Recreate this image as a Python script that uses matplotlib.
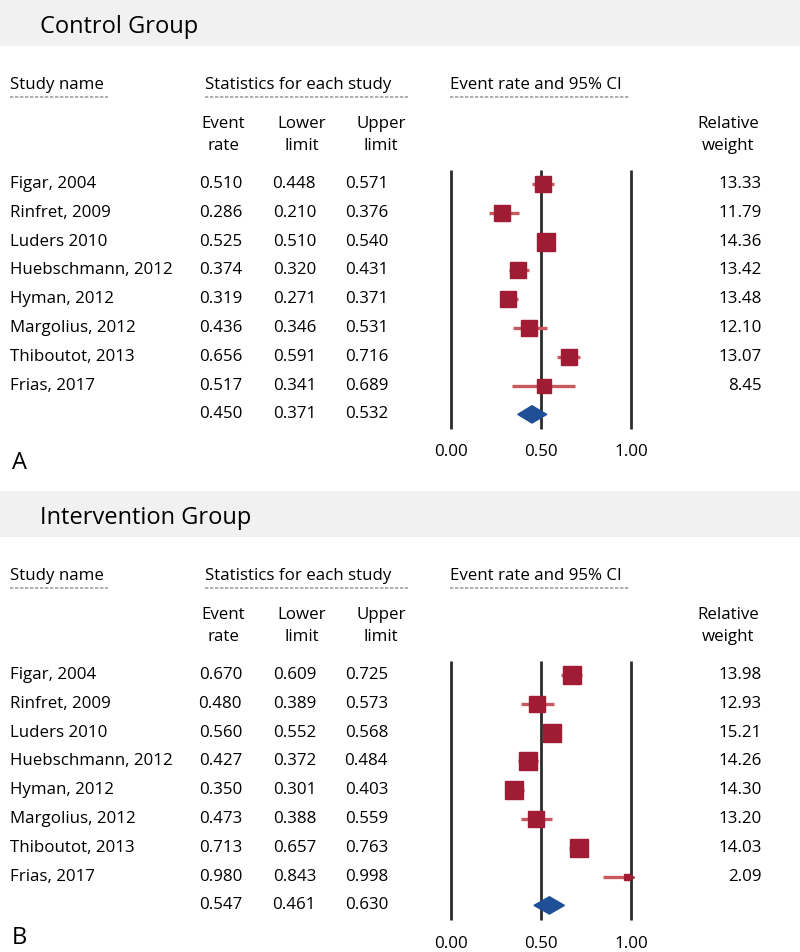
import numpy as np
import matplotlib
matplotlib.use("Agg")
import matplotlib.pyplot as plt
from matplotlib.transforms import blended_transform_factory
from matplotlib.patches import Polygon, Rectangle

plt.rcParams['font.family'] = ['Open Sans', 'DejaVu Sans']

# -----------------------------
# Data
# -----------------------------
studies = ["Figar, 2004", "Rinfret, 2009", "Luders 2010", "Huebschmann, 2012",
           "Hyman, 2012", "Margolius, 2012", "Thiboutot, 2013", "Frias, 2017"]

ctrl_rate = [0.510, 0.286, 0.525, 0.374, 0.319, 0.436, 0.656, 0.517]
ctrl_low = [0.448, 0.210, 0.510, 0.320, 0.271, 0.346, 0.591, 0.341]
ctrl_up = [0.571, 0.376, 0.540, 0.431, 0.371, 0.531, 0.716, 0.689]
ctrl_weight = [13.33, 11.79, 14.36, 13.42, 13.48, 12.10, 13.07, 8.45]
ctrl_summary = [0.450, 0.371, 0.532]

int_rate = [0.670, 0.480, 0.560, 0.427, 0.350, 0.473, 0.713, 0.980]
int_low = [0.609, 0.389, 0.552, 0.372, 0.301, 0.388, 0.657, 0.843]
int_up = [0.725, 0.573, 0.568, 0.484, 0.403, 0.559, 0.763, 0.998]
int_weight = [13.98, 12.93, 15.21, 14.26, 14.30, 13.20, 14.03, 2.09]
int_summary = [0.547, 0.461, 0.630]

xticks = [0.0, 0.5, 1.0]

W, H = 800, 952
fig = plt.figure(figsize=(W / 100, H / 100), dpi=100)

RED = '#a01c34'
CI_RED = '#c9585f'
BLUE = '#1f4f96'
BAND = '#f1f1f1'
FS = 12.2


def fx(x):
    return x / W


def fy(y):
    return 1 - y / H


def panel(top, title, letter, letter_y, rate, low, up, weight, summary):
    # grey title band
    fig.patches.append(Rectangle((0, fy(top + 46)), 1, 46 / H, transform=fig.transFigure,
                                 facecolor=BAND, edgecolor='none', zorder=0))
    fig.text(fx(40), fy(top + 27), title, fontsize=17, va='center', ha='left')

    # column headers
    hy = top + 85
    for x0, x1, txt in [(10, 108, "Study name"), (205, 408, "Statistics for each study"),
                        (450, 630, "Event rate and 95% CI")]:
        fig.text(fx(x0), fy(hy), txt, fontsize=FS, va='center', ha='left')
        fig.add_artist(plt.Line2D([fx(x0), fx(x1)], [fy(hy + 12), fy(hy + 12)],
                                  color='#a0a0a0', lw=1.2, ls=(0, (2, 1))))
    for xc, txt in [(223, "Event\nrate"), (302, "Lower\nlimit"), (381, "Upper\nlimit"),
                    (728, "Relative\nweight")]:
        fig.text(fx(xc), fy(top + 135), txt, fontsize=FS, va='center', ha='center',
                 linespacing=1.45)

    # forest axes: rows in data units
    row0 = top + 184
    step = 28.8
    ax_top, ax_bot = top + 160, top + 432
    ax = fig.add_axes([fx(451), fy(ax_bot), fx(631) - fx(451), (ax_bot - ax_top) / H])
    ax.set_xlim(0, 1)
    ax.set_ylim((ax_bot - row0) / step, (ax_top - row0) / step)
    ax.patch.set_alpha(0)
    for s in ax.spines.values():
        s.set_visible(False)
    ax.set_xticks(xticks)
    ax.set_xticklabels(["%.2f" % t for t in xticks], fontsize=FS)
    ax.tick_params(axis='x', length=0, pad=9)
    ax.set_yticks([])

    n = len(rate)
    ax.vlines(xticks, -0.5, n + 0.5, color='#2b2b2b', lw=2, zorder=1, clip_on=False)

    for i in range(n):
        ax.plot([low[i], up[i]], [i, i], color=CI_RED, lw=2.4, solid_capstyle='butt',
                zorder=2, clip_on=False)
        ax.plot(rate[i], i, marker='s', ms=3.3 * np.sqrt(weight[i]), color=RED,
                mec=RED, zorder=3, clip_on=False)
        if up[i] > 0.99:
            ax.plot(up[i], i, marker='>', ms=5, color=RED, zorder=3, clip_on=False)

    est, lo, hi = summary
    ax.add_patch(Polygon([(lo, n), (est, n - 0.3), (hi, n), (est, n + 0.3)],
                         closed=True, facecolor=BLUE, edgecolor=BLUE, zorder=3))

    # table text, rows follow the forest axes
    tr = blended_transform_factory(fig.transFigure, ax.transData)
    for i in range(n):
        fig.text(fx(10), i, studies[i], transform=tr, fontsize=FS, va='center', ha='left')
        fig.text(fx(242), i, "%.3f" % rate[i], transform=tr, fontsize=FS, va='center', ha='right')
        fig.text(fx(316), i, "%.3f" % low[i], transform=tr, fontsize=FS, va='center', ha='right')
        fig.text(fx(388), i, "%.3f" % up[i], transform=tr, fontsize=FS, va='center', ha='right')
        fig.text(fx(762), i, "%.2f" % weight[i], transform=tr, fontsize=FS, va='center', ha='right')
    fig.text(fx(242), n, "%.3f" % est, transform=tr, fontsize=FS, va='center', ha='right')
    fig.text(fx(316), n, "%.3f" % lo, transform=tr, fontsize=FS, va='center', ha='right')
    fig.text(fx(388), n, "%.3f" % hi, transform=tr, fontsize=FS, va='center', ha='right')

    fig.text(fx(12), fy(letter_y), letter, fontsize=17, va='center', ha='left')


panel(0, "Control Group", "A", 463, ctrl_rate, ctrl_low, ctrl_up, ctrl_weight, ctrl_summary)
panel(491, "Intervention Group", "B", 938, int_rate, int_low, int_up, int_weight, int_summary)

fig.savefig("out.png", dpi=100)
